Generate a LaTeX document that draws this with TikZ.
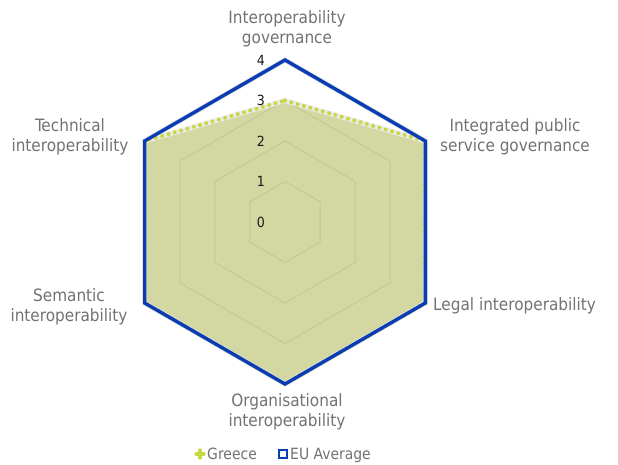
\documentclass[tikz,border=0pt]{standalone}
\usepackage{fontspec}
\setmainfont{DejaVu Sans Condensed}
\definecolor{fillol}{HTML}{D3D7A1}
\definecolor{gridol}{HTML}{C3C790}
\definecolor{eublue}{HTML}{0A3CB4}
\definecolor{grdot}{HTML}{C8D840}
\definecolor{labgray}{HTML}{727272}
\definecolor{numc}{HTML}{1A1A1A}
\tikzset{
  axislabel/.style={text=labgray, font=\fontsize{17}{20}\selectfont, align=center, inner sep=0pt},
  scalelabel/.style={text=numc, font=\fontsize{14}{15}\selectfont, inner sep=0pt},
  legtext/.style={text=labgray, font=\fontsize{15.5}{17}\selectfont, anchor=base west, inner sep=0pt},
  gridline/.style={draw=gridol, line width=0.9pt},
  eulinestyle/.style={draw=eublue, line width=3.4pt, line join=miter},
  grline/.style={draw=grdot, line width=4pt, line cap=round, dash pattern=on 0.05pt off 6.5pt},
}
\begin{document}
\begin{tikzpicture}[x=1pt,y=-1pt]
\useasboundingbox (0,0) rectangle (618,465);
\coordinate (C) at (285,222);
% Greece values
\def\gA{3}\def\gB{4}\def\gC{4}\def\gD{4}\def\gE{4}\def\gF{4}
\foreach \k/\v in {0/\gA,1/\gB,2/\gC,3/\gD,4/\gE,5/\gF}{
  \coordinate (g\k) at ({285+40.5*\v*sin(60*\k)},{222-40.5*\v*cos(60*\k)});
  \coordinate (e\k) at ({285+162*sin(60*\k)},{222-162*cos(60*\k)});
}
% Greece area
\fill[fillol] (g0)--(g1)--(g2)--(g3)--(g4)--(g5)--cycle;
% grid
\foreach \r in {1,2,3}{
  \draw[gridline] ({285},{222-40.5*\r})
    \foreach \k in {1,...,5}{ -- ({285+40.5*\r*sin(60*\k)},{222-40.5*\r*cos(60*\k)}) } -- cycle;
}
% shadows
\draw[black!12, line width=5pt, line join=miter, shift={(1.5,2)}] (e0)--(e1)--(e2)--(e3)--(e4)--(e5)--cycle;
\draw[black!8, line width=5pt, line join=round, shift={(1.5,2)}] (g5)--(g0)--(g1);
% Greece dotted
\draw[grline] (g0)--(g1)--(g2)--(g3)--(g4)--(g5)--cycle;
% EU average
\draw[eulinestyle] (e0)--(e1)--(e2)--(e3)--(e4)--(e5)--cycle;
% scale labels
\foreach \v in {0,...,4}{
  \node[scalelabel] (s\v) at (261,{222-40.5*\v}) {\v};
}
% axis labels
\node[axislabel] (l0) at (287,29) {Interoperability\\governance};
\node[axislabel] (l1) at (515,137) {Integrated public\\service governance};
\node[axislabel, anchor=west] (l2) at (433,306) {Legal interoperability};
\node[axislabel] (l3) at (287,412) {Organisational\\interoperability};
\node[axislabel] (l4) at (69,307) {Semantic\\interoperability};
\node[axislabel] (l5) at (70,137) {Technical\\interoperability};
% legend
\node (mk1) at (200,454) {};
\draw[grdot, line width=3.2pt, line cap=round] (196,454)--(204,454) (200,450)--(200,458);
\node[legtext] (lg1) at (207,459.5) {Greece};
\draw[eublue, line width=2.6pt] (279,450) rectangle (287,458);
\node (mk2) at (283,454) {};
\node[legtext] (lg2) at (290,459.5) {EU Average};
\end{tikzpicture}
\end{document}
